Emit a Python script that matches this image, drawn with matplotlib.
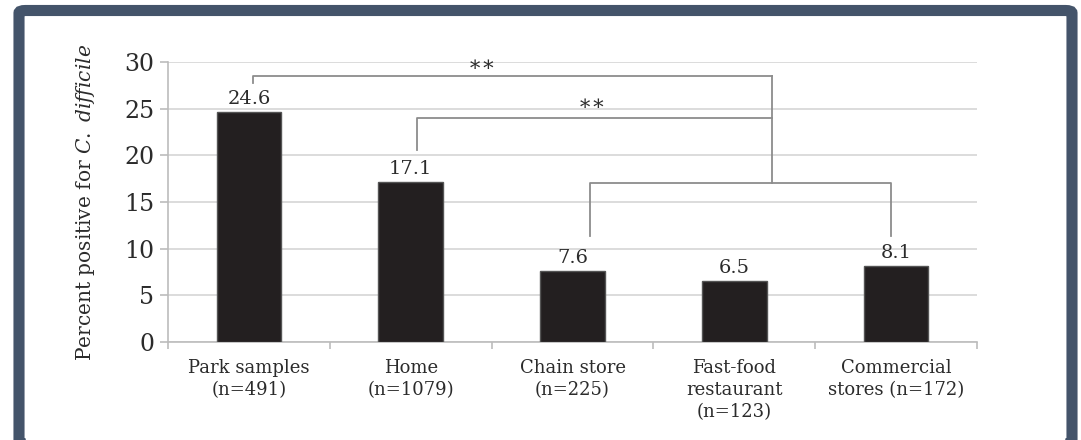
import numpy as np
import matplotlib
matplotlib.use('Agg')
import matplotlib.pyplot as plt
from matplotlib.patches import FancyBboxPatch

# data
categories = ['Park samples\n(n=491)', 'Home\n(n=1079)', 'Chain store\n(n=225)',
              'Fast-food\nrestaurant\n(n=123)', 'Commercial\nstores (n=172)']
percent = [24.6, 17.1, 7.6, 6.5, 8.1]
yticks = [0, 5, 10, 15, 20, 25, 30]

# significance brackets: x-left, x-right, y-level, y-end of left leg
sig_left = [(0.025, 3.235, 28.5, 27.75), (1.037, 3.235, 24.0, 20.6)]
group_right = (2.11, 3.97, 17.0, 11.4)   # store group bracket
stars = [(1.44, 29.65, '\u2217\u2217'), (2.12, 25.45, '\u2217\u2217')]

plt.rcParams['font.family'] = 'DejaVu Serif'
plt.rcParams['mathtext.fontset'] = 'dejavuserif'
txt = '#2b2b2b'
grey = '#8c8c8c'

fig = plt.figure(figsize=(10.81, 4.40), dpi=100)
ax = fig.add_axes([168/1081., 98/440., 809/1081., 280/440.])

x = np.arange(len(percent))
ax.bar(x, percent, width=0.4, color='#231f20', edgecolor='#555555', linewidth=1, zorder=3)
for xi, v in zip(x, percent):
    ax.annotate('%.1f' % v, (xi, v), xytext=(0, 3), textcoords='offset points',
                ha='center', va='bottom', fontsize=14, color=txt)

ax.set_xlim(-0.5, 4.5)
ax.set_ylim(0, 30)
ax.set_yticks(yticks)
ax.yaxis.grid(True, color='#d6d6d6', linewidth=1.2, zorder=0)
ax.set_axisbelow(True)
for s in ['top', 'right']:
    ax.spines[s].set_visible(False)
for s in ['left', 'bottom']:
    ax.spines[s].set_color('#bcbcbc')
    ax.spines[s].set_linewidth(1.2)
ax.tick_params(axis='y', length=6, color='#bcbcbc', width=1.2, labelsize=17, labelcolor=txt, pad=4)
ax.set_xticks(x)
ax.set_xticklabels(categories, fontsize=13, color=txt, linespacing=1.3)
ax.tick_params(axis='x', length=0, pad=12)
ax.set_xticks(np.arange(-0.5, 5, 1), minor=True)
ax.tick_params(axis='x', which='minor', length=5, color='#bcbcbc', width=1.2)

ax.set_ylabel(r'Percent positive for $\it{C.\ difficile}$', fontsize=14.5, color=txt)
ax.yaxis.set_label_coords(-0.088, 0.5)

# brackets
for x0, x1, y, yb in sig_left:
    ax.plot([x0, x0, x1], [yb, y, y], color=grey, lw=1.3, clip_on=False, zorder=4)
x_join = sig_left[0][1]
ax.plot([x_join, x_join], [sig_left[0][2], group_right[2]], color=grey, lw=1.3, zorder=4)
g0, g1, gy, gb = group_right
ax.plot([g0, g0, g1, g1], [gb, gy, gy, gb], color=grey, lw=1.3, zorder=4)
for sx, sy, s in stars:
    ax.text(sx, sy, s, ha='center', va='center', fontsize=15, color=txt, clip_on=False)

# frame
frame = FancyBboxPatch((19/1081., -4/440.), (1072-19)/1081., (444-10.5)/440.,
                       boxstyle='round,pad=0,rounding_size=0.006',
                       transform=fig.transFigure, facecolor='none',
                       edgecolor='#44546a', linewidth=8, clip_on=False)
fig.patches.append(frame)

fig.savefig('out.png', dpi=100)
